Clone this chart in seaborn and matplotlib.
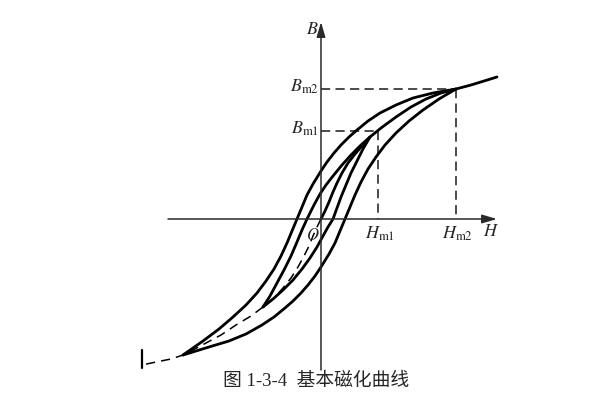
import matplotlib
matplotlib.use("Agg")
import matplotlib.pyplot as plt
import seaborn as sns
import pandas as pd

# ---------------- data (H, B) ----------------
outer_upper_H = [135, 112, 92, 75, 59, 47, 36, 28, 20, 13, 6, 0, -8, -14, -19, -24,
                 -29, -34, -40, -47, -55, -64, -75, -88, -102, -118, -138]
outer_upper_B = [130, 126, 121, 114, 106, 98, 89, 82, 74, 66, 57, 48, 35, 24, 12, 0,
                 -12, -24, -37, -50, -62, -74, -86, -98, -110, -122, -136]

outer_lower_H = [-138, -112, -92, -75, -59, -47, -36, -28, -20, -13, -6, 0, 8, 14, 19, 24,
                 29, 34, 40, 47, 55, 64, 75, 88, 102, 118, 135]
outer_lower_B = [-136, -128, -122, -115, -106, -98, -89, -82, -74, -66, -57, -48, -35, -24, -12, 0,
                 12, 24, 37, 50, 62, 74, 86, 98, 109, 120, 130]

inner_upper_H = [49, 40, 30, 21, 12, 5, -1, -7, -14, -19, -24, -30, -37, -44, -51, -58]
inner_upper_B = [82, 74, 64, 54, 43, 34, 25, 14, 0, -11, -23, -37, -51, -64, -77, -88]

inner_lower_H = [-58, -48, -38, -28, -19, -11, -4, 2, 7, 12, 16, 20, 25, 30, 36, 42, 49]
inner_lower_B = [-88, -80, -71, -61, -50, -39, -28, -17, -8, 0, 11, 22, 34, 46, 58, 70, 82]

basic_H = [0, 4, 8, 12, 16, 21, 27, 34, 41, 49, 60, 75, 90, 105, 120, 135, 150, 163, 176]
basic_B = [0, 8, 17, 27, 36, 46, 56, 65, 73, 82, 91, 102, 112, 120, 126, 130, 134, 138, 142]

basic_neg_H = [0, -4, -8, -12, -17, -23, -30, -38, -47, -58, -70, -85, -100, -115, -128,
               -138, -150, -165, -179]
basic_neg_B = [0, -8, -17, -27, -37, -48, -59, -69, -79, -88, -97, -106, -116, -124, -131,
               -136, -140, -143, -146]

end_tick_H = [-179, -179]
end_tick_B = [-131, -149]

Hm1, Hm2 = 57, 135
Bm1, Bm2 = 88, 130
tick_labels_H = [r"$H_{\mathrm{m1}}$", r"$H_{\mathrm{m2}}$"]
tick_labels_B = [r"$B_{\mathrm{m1}}$", r"$B_{\mathrm{m2}}$"]
caption = "图 1-3-4  基本磁化曲线"

curves = {
    "outer_upper": (outer_upper_H, outer_upper_B),
    "outer_lower": (outer_lower_H, outer_lower_B),
    "inner_upper": (inner_upper_H, inner_upper_B),
    "inner_lower": (inner_lower_H, inner_lower_B),
    "basic": (basic_H, basic_B),
    "basic_neg": (basic_neg_H, basic_neg_B),
    "end_tick": (end_tick_H, end_tick_B),
}
frames = []
for name, (hs, bs) in curves.items():
    frames.append(pd.DataFrame({"H": hs, "B": bs, "curve": name}))
df = pd.concat(frames, ignore_index=True)

# ---------------- drawing ----------------
sns.set_theme(style="white")
plt.rcParams["mathtext.fontset"] = "stix"
plt.rcParams["font.family"] = ["Liberation Serif", "Noto Sans CJK SC", "DejaVu Sans"]

fig = plt.figure(figsize=(6.14, 3.93), dpi=100)
ax = fig.add_axes([0, 0, 1, 1])
ax.set_xlim(-321, 293)
ax.set_ylim(-174, 219)
ax.axis("off")

# axes with arrows
axis_col = "#2a2a2a"
ax.annotate("", xy=(176, 0), xytext=(-153, 0),
            arrowprops=dict(arrowstyle="-|>,head_length=0.75,head_width=0.22",
                            color=axis_col, lw=1.1, shrinkA=0, shrinkB=0))
ax.annotate("", xy=(0, 197), xytext=(0, -151),
            arrowprops=dict(arrowstyle="-|>,head_length=0.75,head_width=0.22",
                            color=axis_col, lw=1.1, shrinkA=0, shrinkB=0))

# guide dashed lines
dash_kw = dict(color="#1a1a1a", lw=1.1, dashes=(6, 3.5))
ax.plot([0, Hm1], [Bm1, Bm1], **dash_kw)
ax.plot([Hm1, Hm1], [Bm1, 0], **dash_kw)
ax.plot([0, Hm2], [Bm2, Bm2], **dash_kw)
ax.plot([Hm2, Hm2], [Bm2, 0], **dash_kw)

solid = ["outer_upper", "outer_lower", "inner_upper", "inner_lower", "basic"]
for name in solid:
    sns.lineplot(data=df[df.curve == name], x="H", y="B", sort=False, estimator=None,
                 color="black", lw=2.0, ax=ax, solid_joinstyle="round",
                 solid_capstyle="round")
sns.lineplot(data=df[df.curve == "end_tick"], x="H", y="B", sort=False, estimator=None,
             color="black", lw=1.6, ax=ax)
sns.lineplot(data=df[df.curve == "basic_neg"], x="H", y="B", sort=False, estimator=None,
             color="black", lw=1.1, ax=ax)
ax.lines[-1].set_dashes((6, 4))
ax.set_xlim(-321, 293)
ax.set_ylim(-174, 219)

# texts
fs = 13
ax.text(-9, 190, r"$B$", fontsize=fs, ha="center", va="center")
ax.text(170, -13, r"$H$", fontsize=fs, ha="center", va="center")
ax.text(-8, -17, r"$O$", fontsize=fs - 1, ha="center", va="center")
ax.text(Hm1 + 2, -15, tick_labels_H[0], fontsize=fs, ha="center", va="center")
ax.text(Hm2 + 1, -15, tick_labels_H[1], fontsize=fs, ha="center", va="center")
ax.text(-2, Bm1 + 2, tick_labels_B[0], fontsize=fs, ha="right", va="center")
ax.text(-2, Bm2 + 2, tick_labels_B[1], fontsize=fs, ha="right", va="center")
ax.text(-5, -162, caption, fontsize=13.5, ha="center", va="center",
        family=["Liberation Serif", "Noto Sans CJK SC"])

fig.savefig("out.png", dpi=100)
